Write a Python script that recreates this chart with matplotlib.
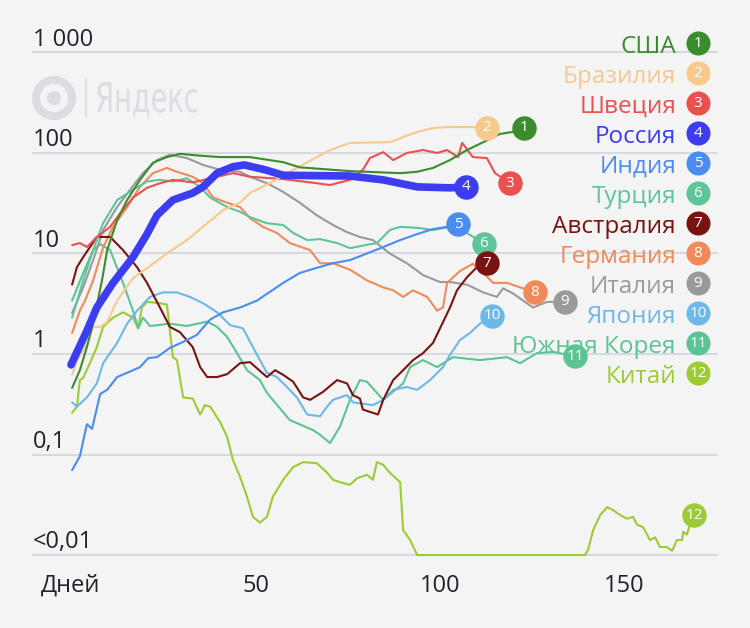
import numpy as np
import matplotlib.pyplot as plt
from matplotlib.textpath import TextPath
from matplotlib.patches import PathPatch
from matplotlib.font_manager import FontProperties
from matplotlib.transforms import Affine2D

plt.rcParams['font.family'] = ['Open Sans', 'DejaVu Sans']

# new cases per million (rolling avg), by day since outbreak start
usa_days = [0.3, 2.4, 4.3, 6, 8.4, 9.8, 12.5, 15.2, 18.7, 22.2, 26, 29.5, 35, 40.4, 48.5, 57.5, 62,
            75.6, 89.2, 93.8, 98.1, 102.7, 107.3, 111.7, 116.3, 119.8, 122.8]
usa_vals = [0.46, 0.69, 1.17, 2.03, 5.4, 10.8, 21.5, 34, 54, 80, 91, 98, 94, 91, 91, 81, 72,
            66, 63, 65, 71, 85, 107, 128, 155, 162, 178]

brazil_days = [0.3, 1.6, 4.3, 6, 7.9, 9.8, 12.5, 16.8, 21.4, 26, 31.4, 36.9, 41.2, 45.8, 48.5, 53.9,
               59.3, 66.6, 70.2, 75.6, 86.4, 90, 93.8, 98.1, 102.7, 108, 112.7]
brazil_vals = [0.62, 0.87, 1.23, 1.86, 1.86, 2.08, 3.4, 5.7, 7.5, 10, 13.6, 20, 27, 32, 40, 50,
               65, 91, 107, 126, 128, 144, 162, 177, 181, 181, 178]

sweden_days = [0.3, 2.4, 4.3, 7, 10.6, 13.3, 16.8, 20.6, 24.1, 27.6, 33, 39.6, 43.9, 48.5, 57.5, 66.6,
               70.2, 75.6, 79.1, 81, 84.6, 87.3, 91, 95.4, 99.2, 101.9, 104.9, 106, 108.9, 112.7,
               114.9, 119]
sweden_vals = [12.1, 12.7, 11.6, 14.6, 18.4, 25, 36, 45, 50, 54, 51, 58, 63, 58, 55, 50,
               48, 54, 68, 89, 102, 85, 100, 107, 100, 107, 91, 126, 91, 89, 63, 50]

russia_days = [0, 4.3, 7, 11.4, 16.8, 20.6, 23.3, 27.6, 33, 35.8, 39.6, 43.9, 47, 52.6, 57.5, 75.6,
               84.6, 93.8, 102.7, 107]
russia_vals = [0.78, 1.7, 2.9, 5.1, 9.2, 15.6, 24, 34, 40, 46, 63, 73, 76, 68, 60, 59,
               54, 46, 45, 46]

india_days = [0.3, 2.4, 4.3, 5.7, 7.9, 9.8, 12.5, 15.2, 18.7, 20.9, 23.3, 26.8, 30.4, 34.1, 37.7,
              41.2, 45.8, 50.4, 57.5, 62, 66.6, 71, 75.6, 80.2, 84.6, 89.2, 93.8, 98.1, 101.9, 104.9]
india_vals = [0.070, 0.096, 0.20, 0.18, 0.40, 0.44, 0.59, 0.65, 0.74, 0.91, 0.93, 1.15, 1.32, 1.55,
              2.2, 2.6, 2.9, 3.4, 5.1, 6.4, 7.2, 8.0, 8.6, 10, 11.6, 13.6, 15.6, 17.5, 18.4, 19.6]

turkey_days = [0.3, 3.3, 6, 8.7, 12.5, 16.8, 20.6, 24.1, 27.6, 31.4, 35, 37.7, 42.3, 45.8, 48.5,
               53.1, 57.5, 60.2, 64, 67.5, 72.1, 75.6, 80.2, 82.9, 86.4, 89.2, 93.8, 98.1, 102.7,
               107.3, 111.9]
turkey_vals = [2.3, 5.4, 10.8, 20, 34, 43, 52, 54, 52, 56, 46, 36, 29, 26, 23,
               20, 19.2, 16, 13.6, 13.9, 12.7, 11.3, 12.2, 12.7, 17.1, 18.4, 18, 17.1, 18.4,
               16, 12.5]

australia_days = [0.3, 1.6, 3.3, 7, 10.6, 14.1, 17.9, 20.6, 24.1, 26.8, 29.5, 33, 35, 36.9, 39.6,
                  42.3, 45.8, 48.5, 53.1, 55.3, 57.5, 60.2, 62.9, 64.8, 68.3, 72.1, 74.8, 76.4,
                  78.3, 79.1, 83.2, 84.6, 87.3, 90, 92.7, 95.4, 98.1, 100, 102.7, 104.6, 107.3,
                  110, 112.7]
australia_vals = [4.9, 7.3, 9.2, 14.6, 14.6, 10.8, 7.3, 5.1, 2.9, 1.86, 1.65, 1.17, 0.74, 0.59, 0.59,
                  0.63, 0.81, 0.83, 0.59, 0.69, 0.62, 0.53, 0.37, 0.35, 0.42, 0.55, 0.51, 0.39,
                  0.36, 0.28, 0.25, 0.35, 0.55, 0.69, 0.87, 1.02, 1.29, 1.8, 2.9, 4.3, 5.8,
                  7.3, 8.0]

germany_days = [0.3, 2.4, 3.8, 6, 8.7, 11.4, 15.2, 18.7, 22.2, 26, 28.7, 33, 35.8, 38.5, 42.3,
                45.8, 48.5, 52, 55.8, 59.3, 64.8, 67.5, 71, 75.6, 80.2, 84.6, 87.3, 90, 92.7,
                96.5, 99.2, 100.8, 101.9, 105.4, 108.9, 110.8, 114.4, 118.2, 121.7, 125.7]
germany_vals = [1.62, 2.7, 3.4, 5.4, 11.5, 18.4, 29, 46, 63, 71, 65, 58, 50, 36, 32,
                29, 22.5, 18.4, 16, 12.7, 10.8, 8, 8, 6.9, 5.4, 4.6, 4.3, 3.7, 4.3,
                3.7, 2.7, 2.9, 5.1, 6.7, 7.9, 6.9, 5.1, 5.1, 4.6, 4.1]

italy_days = [0.3, 3.3, 6, 8.7, 12.5, 16, 19.5, 23.3, 26.8, 31.4, 35.8, 40.4, 45.8, 48.5, 53.1,
              57.5, 62, 66.6, 71, 74.8, 78.3, 81.8, 86.4, 91, 95.4, 100, 102.7, 107.3, 111.7,
              115.4, 117.1, 119.8, 122.5, 125.2, 129, 133.9]
italy_vals = [2.56, 4.6, 8.6, 17.1, 29, 43, 63, 85, 96, 89, 76, 68, 65, 58, 50,
              41, 32, 24, 19.2, 16.3, 14.6, 13.6, 10, 8, 6.1, 5.2, 5.2, 4.9, 4.1,
              3.7, 4.5, 4.0, 3.4, 2.9, 3.3, 3.3]

japan_days = [0.3, 1.6, 4.3, 7, 8.7, 10.6, 12.5, 15.2, 17.9, 21.4, 24.9, 28.7, 32.2, 35.8, 39.6,
              43.1, 46.6, 49.3, 51.2, 53.1, 55.8, 58.5, 61.2, 64, 67.5, 69.4, 71, 74.8, 76.4,
              81.8, 84.6, 87.3, 91, 93.8, 97.3, 100.8, 102.7, 105.4, 108.1, 110.8, 114.1]
japan_vals = [0.33, 0.30, 0.37, 0.51, 0.81, 1.02, 1.29, 2.0, 2.7, 3.7, 4.1, 4.1, 3.7, 3.2, 2.6,
              1.94, 1.8, 1.17, 0.87, 0.65, 0.59, 0.47, 0.37, 0.25, 0.24, 0.30, 0.35, 0.39, 0.33,
              0.31, 0.35, 0.44, 0.47, 0.44, 0.55, 0.74, 0.98, 1.38, 1.62, 2.0, 2.4]

korea_days = [0.3, 3.3, 6, 7.9, 10.6, 14.1, 16.8, 18.2, 19.5, 21.4, 26.8, 31.4, 36.9, 39.6, 42.3,
              45, 47.7, 51.2, 53.1, 59.3, 65.6, 67.5, 70.2, 72.9, 75.6, 78.3, 80.2, 84.6, 90,
              91.9, 95.4, 99.2, 103.5, 110.8, 118.2, 121.7, 126.3, 130.6, 136.6]
korea_vals = [3.4, 6.4, 10.8, 12.4, 10.8, 5.1, 2.7, 1.8, 2.3, 1.9, 2.0, 1.9, 2.1, 1.86, 1.48,
              1.02, 0.69, 0.55, 0.41, 0.22, 0.175, 0.157, 0.13, 0.19, 0.35, 0.55, 0.53, 0.35, 0.51,
              0.74, 0.87, 0.74, 0.93, 0.87, 0.93, 0.81, 1.02, 1.05, 0.95]

china_days = [0.3, 1.6, 2.4, 3.3, 5.1, 7, 8.7, 11.4, 14.1, 16.8, 18.2, 19.2, 20.6, 24.1, 26, 27.6,
              28.7, 30.4, 33, 35, 36.3, 37.7, 40.4, 42.3, 43.9, 45.8, 47.7, 49.3, 51.2, 53.1, 54.7,
              57.5, 60.2, 62.9, 66.6, 69.4, 71, 73.7, 75.6, 77.5, 80.2, 81.8, 82.9, 84.6, 86.4,
              89.2, 90, 91.9, 93.8, 139.3, 140.1, 141.5, 143.4, 145.3, 146.9, 148.8, 150.7, 152.3,
              153.4, 155, 156.9, 158.3, 159.6, 161.5, 162.9, 164.2, 165.6, 165.9, 166.9, 167.7,
              168.8]
china_vals = [0.26, 0.30, 0.55, 0.58, 0.81, 1.17, 1.86, 2.3, 2.6, 2.3, 1.8, 2.9, 3.3, 3.2, 3.1, 0.93,
              0.87, 0.37, 0.36, 0.25, 0.31, 0.30, 0.21, 0.15, 0.088, 0.060, 0.038, 0.024, 0.021,
              0.024, 0.038, 0.056, 0.075, 0.084, 0.082, 0.066, 0.056, 0.052, 0.050, 0.058, 0.063,
              0.056, 0.084, 0.079, 0.066, 0.053, 0.0177, 0.0141, 0.01, 0.01, 0.0112, 0.0177,
              0.025, 0.030, 0.028, 0.025, 0.023, 0.024, 0.020, 0.019, 0.0141, 0.015, 0.012,
              0.012, 0.011, 0.0141, 0.0141, 0.017, 0.016, 0.020, 0.025]

countries = ['США', 'Бразилия', 'Швеция', 'Россия', 'Индия', 'Турция', 'Австралия',
             'Германия', 'Италия', 'Япония', 'Южная Корея', 'Китай']
colors = ['#3a8c2c', '#f6c98c', '#ea5050', '#3c3cf0', '#4a8cf0', '#5ec49a', '#7a1212',
          '#f08a58', '#9a9a9a', '#6cb8e6', '#5cc494', '#9ccb34']

yticks = [1000, 100, 10, 1, 0.1, 0.01]
ytick_labels = ['1 000', '100', '10', '1', '0,1', '<0,01']
xticks = [0, 50, 100, 150]
xtick_labels = ['Дней', '50', '100', '150']

series = [(usa_days, usa_vals), (brazil_days, brazil_vals), (sweden_days, sweden_vals),
          (russia_days, russia_vals), (india_days, india_vals), (turkey_days, turkey_vals),
          (australia_days, australia_vals), (germany_days, germany_vals),
          (italy_days, italy_vals), (japan_days, japan_vals), (korea_days, korea_vals),
          (china_days, china_vals)]

bg = '#f4f4f5'
txt = '#22222c'
fig = plt.figure(figsize=(7.5, 6.28), dpi=100)
fig.patch.set_facecolor(bg)

# pixel-space layer (watermark), also used as transform for the legend
ax_px = fig.add_axes([0, 0, 1, 1])
ax_px.set_xlim(0, 750)
ax_px.set_ylim(628, 0)
ax_px.axis('off')

ax = fig.add_axes([0, 0, 1, 1])
ax.patch.set_visible(False)
ax.set_yscale('log')
ax.set_xlim(-19.24, 184.0)
ax.set_ylim(10 ** -2.726, 10 ** 3.522)
ax.axis('off')
px = ax_px.transData

# grid + y labels
for v, lab in zip(yticks, ytick_labels):
    ax.plot([-10.6, 175.3], [v, v], color='#d6d7de', lw=1.3, zorder=1, solid_capstyle='butt')
    ax.text(-10.4, v * 1.17, lab, fontsize=17, color=txt, va='baseline', ha='left')

for d, lab in zip(xticks, xtick_labels):
    ax.text(d, 0.00428, lab, fontsize=17, color=txt, va='baseline', ha='center')

# watermark (logo + narrow word)
wm = '#dcdde2'
ax_px.add_patch(plt.Circle((54, 98), 22, color=wm, lw=0))
ax_px.add_patch(plt.Circle((54, 98), 14, color=bg, lw=0))
ax_px.add_patch(plt.Circle((54, 98), 7, color=wm, lw=0))
ax_px.plot([86, 86], [80, 116], color=wm, lw=1.6)
tp = TextPath((0, 0), 'Яндекс', size=41, prop=FontProperties(family='DejaVu Sans'))
ext = tp.get_extents()
sx = 100 / ext.width
tp = Affine2D().translate(-ext.x0, 0).scale(sx, -1).translate(97, 112).transform_path(tp)
ax_px.add_patch(PathPatch(tp, color=wm, lw=0))

# legend at right (above grid, below data marks)
for i, name in enumerate(countries):
    yc = 43.3 + 30 * i
    ax.text(676, yc + 9.5, name, color=colors[i], fontsize=17.5,
            ha='right', va='baseline', zorder=2, transform=px)
    ax.scatter([698], [yc], s=300, color=colors[i], lw=0, zorder=2.5, transform=px)
    ax.text(698, yc, str(i + 1), color='white', fontsize=11, ha='center', va='center',
            zorder=2.6, transform=px)

# lines, drawn back to front
for i in range(len(series) - 1, -1, -1):
    d, v = series[i]
    lw = 5.5 if countries[i] == 'Россия' else 1.5
    z = 6 if countries[i] == 'Россия' else 3
    ax.plot(d, np.clip(v, 0.01, None), color=colors[i], lw=lw, zorder=z,
            solid_joinstyle='round', solid_capstyle='round')

# end markers
for i, (d, v) in enumerate(series):
    ax.scatter([d[-1]], [max(v[-1], 0.01)], s=310, color=colors[i], zorder=8, lw=0)
    ax.text(d[-1], max(v[-1], 0.01), str(i + 1), color='white', fontsize=11,
            ha='center', va='center', zorder=9)

fig.savefig('out.png', dpi=100, facecolor=bg)
